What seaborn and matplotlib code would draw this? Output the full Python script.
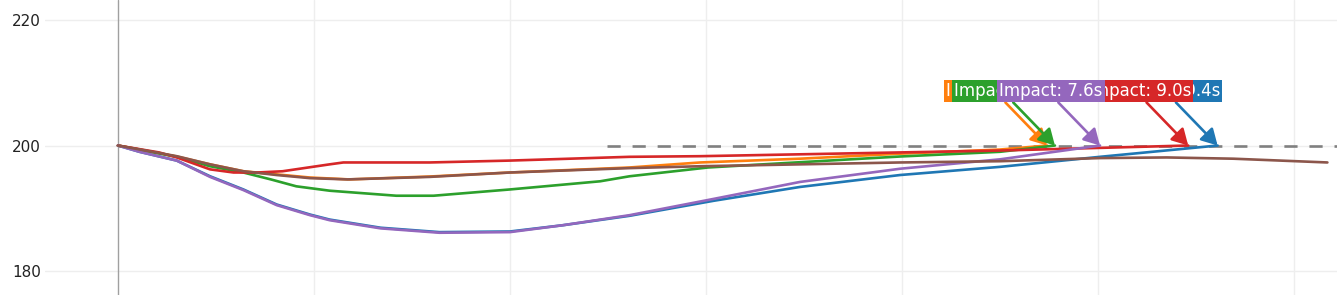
import numpy as np
import pandas as pd
import matplotlib
matplotlib.use("Agg")
import matplotlib.pyplot as plt
import seaborn as sns

# ---- data ----
series_names = ["blue", "orange", "green", "red", "purple", "brown"]
series_colors = ["#1f77b4", "#ff7f0e", "#2ca02c", "#d62728", "#9467bd", "#8c564b"]

blue_x = [0, 0.11, 0.30, 0.47, 0.64, 0.81, 0.98, 1.08, 1.34, 1.64, 2.0, 2.27, 2.61, 3.04, 3.48, 3.99, 4.50, 5.01, 5.61]
blue_y = [200, 199.0, 197.6, 195.1, 193.0, 190.6, 189.0, 188.2, 186.9, 186.2, 186.3, 187.3, 188.8, 191.2, 193.4, 195.3, 196.6, 198.2, 200.0]

purple_x = [0, 0.11, 0.30, 0.47, 0.64, 0.81, 0.98, 1.08, 1.34, 1.64, 2.0, 2.27, 2.61, 3.04, 3.48, 3.99, 4.50, 5.01]
purple_y = [200, 199.0, 197.6, 195.0, 192.9, 190.5, 188.9, 188.1, 186.8, 186.1, 186.2, 187.3, 188.9, 191.5, 194.2, 196.3, 197.8, 200.0]

red_x = [0, 0.21, 0.30, 0.47, 0.59, 0.71, 0.84, 1.08, 1.15, 1.59, 2.0, 2.61, 2.97, 3.99, 4.50, 5.46]
red_y = [200, 198.9, 198.1, 196.2, 195.7, 195.7, 195.9, 197.0, 197.3, 197.3, 197.6, 198.2, 198.3, 198.9, 199.2, 200.0]

green_x = [0, 0.30, 0.47, 0.64, 0.78, 0.91, 1.08, 1.42, 1.61, 2.0, 2.46, 2.61, 3.01, 3.99, 4.50, 4.78]
green_y = [200, 198.2, 196.7, 195.7, 194.6, 193.5, 192.8, 192.0, 192.0, 193.0, 194.3, 195.1, 196.5, 198.25, 199.0, 200.0]

orange_x = [0, 0.30, 0.47, 0.64, 0.81, 0.98, 1.18, 1.59, 2.0, 2.61, 2.97, 3.48, 3.99, 4.50, 4.74]
orange_y = [200, 198.25, 197.0, 195.9, 195.4, 194.9, 194.6, 195.06, 195.7, 196.5, 197.3, 197.9, 198.7, 199.36, 200.0]

brown_x = [0, 0.30, 0.47, 0.64, 0.81, 0.98, 1.17, 1.59, 2.0, 2.61, 2.97, 3.48, 3.99, 4.50, 5.01, 5.35, 5.69, 6.17]
brown_y = [200, 198.3, 197.0, 195.9, 195.3, 194.8, 194.6, 195.0, 195.7, 196.4, 196.7, 197.0, 197.3, 197.5, 198.0, 198.1, 197.9, 197.3]

impact_labels = ["Impact: 9.4s", "Impact: 7.1s", "Impact: 7.2s", "Impact: 9.0s", "Impact: 7.6s"]
impact_x = [5.61, 4.74, 4.78, 5.46, 5.01]
target_value = 200
target_start = 2.495

y_ticks = [180, 200, 220]

# ---- build long-form table ----
xs = [blue_x, orange_x, green_x, red_x, purple_x, brown_x]
ys = [blue_y, orange_y, green_y, red_y, purple_y, brown_y]
frames = []
for n, x, y in zip(series_names, xs, ys):
    frames.append(pd.DataFrame({"x": x, "y": y, "series": n}))
df = pd.concat(frames, ignore_index=True)

sns.set_theme(style="white")
plt.rcParams["font.family"] = ["DejaVu Sans"]

fig = plt.figure(figsize=(13.37, 2.95), dpi=100)
ax = fig.add_axes([45 / 1337, 0, 1 - 45 / 1337, 1])

# grid
for gx in range(1, 7):
    ax.axvline(gx, color="#eeeeee", lw=1, zorder=0)
ax.axvline(0, color="#a0a0a0", lw=1, zorder=0.5)
for gy in y_ticks:
    ax.axhline(gy, color="#eeeeee", lw=1, zorder=0)

sns.lineplot(data=df, x="x", y="y", hue="series", hue_order=series_names,
             palette=series_colors, sort=False, estimator=None, lw=1.9,
             legend=False, ax=ax, zorder=3)

# target dashed line
ax.plot([target_start, 6.3], [target_value, target_value], color="#808080",
        lw=1.9, dashes=(5.0, 4.5), zorder=2)

# annotations
for i, (lab, ix) in enumerate(zip(impact_labels, impact_x)):
    c = series_colors[i]
    zb = 10 + i * 2
    ax.annotate("", xy=(ix, target_value), xycoords="data",
                xytext=(-30, 31), textcoords="offset points",
                arrowprops=dict(arrowstyle="-|>,head_length=0.8,head_width=0.45",
                                color=c, lw=1.9, shrinkA=0, shrinkB=0),
                zorder=zb)
    ax.annotate(lab, xy=(ix, target_value), xycoords="data",
                xytext=(2.0, 39), textcoords="offset points",
                ha="right", va="center", color="white", fontsize=12,
                bbox=dict(boxstyle="square,pad=0.12", fc=c, ec=c, lw=0),
                zorder=zb + 1)

ax.set_xlim(-0.372, 6.219)
ax.set_ylim(176.18, 223.19)
ax.set_yticks(y_ticks)
ax.set_yticklabels([str(t) for t in y_ticks], fontsize=11, color="#222222")
ax.tick_params(axis="y", length=0, pad=3)
ax.set_xticks([])
ax.set_xlabel("")
ax.set_ylabel("")
for s in ax.spines.values():
    s.set_visible(False)
ax.patch.set_alpha(0)

fig.savefig("out.png", dpi=100)
